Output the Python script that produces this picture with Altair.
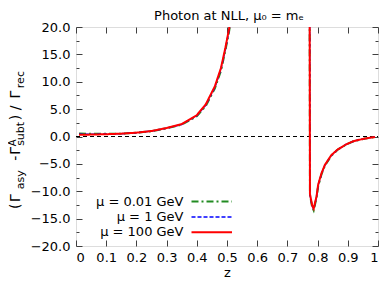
import altair as alt
import pandas as pd

# ---- data ----
z = [0.01, 0.05, 0.10, 0.15, 0.20, 0.25, 0.30, 0.35, 0.40, 0.43, 0.46, 0.48,
     0.495, 0.507, 0.52, 0.55, 0.60, 0.65, 0.70, 0.75, 0.765, 0.7735, 0.7747,
     0.782, 0.787, 0.7966, 0.8018, 0.813, 0.824, 0.8455, 0.867, 0.8945, 0.919,
     0.95, 0.97, 0.99]

mu_001 = [0.55, 0.50, 0.48, 0.52, 0.68, 0.97, 1.50, 2.15, 3.70, 5.60, 8.80, 12.0,
          15.8, 19.2, 24.0, 40.0, 70.0, 95.0, 110.0, 90.0, 60.0, 30.0, -10.7,
          -12.9, -13.5, -11.2, -9.1, -6.9, -5.35, -3.5, -2.4, -1.47, -0.87,
          -0.46, -0.26, -0.10]
mu_1 = [0.40, 0.42, 0.45, 0.52, 0.69, 0.99, 1.53, 2.20, 3.80, 5.75, 9.00, 12.3,
        16.0, 19.5, 24.5, 40.0, 70.0, 95.0, 110.0, 90.0, 60.0, 30.0, -10.6,
        -12.7, -13.3, -11.0, -8.9, -6.8, -5.25, -3.45, -2.37, -1.45, -0.86,
        -0.45, -0.25, -0.10]
mu_100 = [0.30, 0.35, 0.42, 0.52, 0.70, 1.00, 1.55, 2.25, 3.90, 5.90, 9.20, 12.5,
          16.3, 19.7, 25.0, 40.0, 70.0, 95.0, 110.0, 90.0, 60.0, 30.0, -10.5,
          -12.6, -13.15, -10.9, -8.8, -6.7, -5.2, -3.4, -2.35, -1.44, -0.85,
          -0.45, -0.25, -0.10]

series_labels = ["μ = 0.01 GeV", "μ = 1 GeV", "μ = 100 GeV"]
series_values = [mu_001, mu_1, mu_100]
series_colors = ["#228b22", "#0000ff", "#ff0000"]
series_dash = [[7, 3, 2, 3], [4, 2], [1, 0]]
series_width = [2, 1.5, 2]

x_ticks = [0.0, 0.1, 0.2, 0.3, 0.4, 0.5, 0.6, 0.7, 0.8, 0.9, 1.0]
y_ticks = [-20, -15, -10, -5, 0, 5, 10, 15, 20]
y_minor = [-17.5, -12.5, -7.5, -2.5, 2.5, 7.5, 12.5, 17.5]

title_text = "Photon at NLL, μ₀ = mₑ"

FONT = "DejaVu Sans"
AX = "#404040"
PAD_L, PAD_T, PAD_R, PAD_B = 68, 19, 4, 33
W, H = 302, 219
SY = H / 222.0  # vertical scale relative to the reference layout

xs = alt.Scale(domain=[0, 1], nice=False, zero=False)
ys = alt.Scale(domain=[-20, 20], nice=False, zero=False)

zero_df = pd.DataFrame({"z": [0.0, 1.0], "v": [0.0, 0.0]})
one = zero_df.head(1)

layers = []

# zero dashed line + inner major ticks (bottom / left)
layers.append(
    alt.Chart(zero_df).mark_line(color="black", strokeWidth=1, strokeDash=[4, 3]).encode(
        x=alt.X("z:Q", scale=xs, axis=alt.Axis(
            orient="bottom", offset=-6, values=x_ticks, tickSize=6, ticks=True,
            labels=False, domain=False, grid=False, title=None, tickColor=AX)),
        y=alt.Y("v:Q", scale=ys, axis=alt.Axis(
            orient="left", offset=-6, values=y_ticks, tickSize=6, ticks=True,
            labels=False, domain=False, grid=False, title=None, tickColor=AX)),
    )
)
# inner major ticks (top / right)
layers.append(
    alt.Chart(zero_df).mark_line(opacity=0).encode(
        x=alt.X("z:Q", scale=xs, axis=alt.Axis(
            orient="top", offset=-6, values=x_ticks, tickSize=6, ticks=True,
            labels=False, domain=False, grid=False, title=None, tickColor=AX)),
        y=alt.Y("v:Q", scale=ys, axis=alt.Axis(
            orient="right", offset=-6, values=y_ticks, tickSize=6, ticks=True,
            labels=False, domain=False, grid=False, title=None, tickColor=AX)),
    )
)
# minor y ticks left / right
for side in ["left", "right"]:
    layers.append(
        alt.Chart(zero_df).mark_line(opacity=0).encode(
            x=alt.X("z:Q", scale=xs, axis=None),
            y=alt.Y("v:Q", scale=ys, axis=alt.Axis(
                orient=side, offset=-3, values=y_minor, tickSize=3, ticks=True,
                labels=False, domain=False, grid=False, title=None, tickColor=AX)),
        )
    )

# curves
for i, (lab, vals, col, dash, sw) in enumerate(zip(series_labels, series_values,
                                                    series_colors, series_dash, series_width)):
    df = pd.DataFrame({"z": z, "v": vals})
    if i == 0:
        xax = alt.Axis(orient="bottom", values=x_ticks, format="~g", ticks=False, tickSize=0,
                       domain=False, grid=False, labelPadding=15, labelBaseline="alphabetic",
                       labelFont=FONT, labelFontSize=13, labelColor="black",
                       title="z", titleFont=FONT, titleFontSize=13, titleFontWeight="normal",
                       titleColor="black", titleBaseline="alphabetic", titleY=30)
        yax = alt.Axis(orient="left", values=y_ticks, format=".1f", ticks=False, tickSize=0,
                       domain=False, grid=False, labelPadding=6, labelFont=FONT,
                       labelFontSize=13, labelColor="black", title=None)
    else:
        xax = None
        yax = None
    layers.append(
        alt.Chart(df).mark_line(color=col, strokeWidth=sw, strokeDash=dash, clip=True).encode(
            x=alt.X("z:Q", scale=xs, axis=xax),
            y=alt.Y("v:Q", scale=ys, axis=yax),
        )
    )

# manual legend (bottom-left, inside the plot)
for i, (lab, col, dash, sw) in enumerate(zip(series_labels, series_colors, series_dash, series_width)):
    ry = (177 + 15.5 * i) * SY
    layers.append(
        alt.Chart(one).mark_rule(color=col, strokeWidth=sw, strokeDash=dash).encode(
            x=alt.value(115.5), x2=alt.value(156), y=alt.value(ry))
    )
    layers.append(
        alt.Chart(one).mark_text(
            text=lab, font=FONT, fontSize=13, align="right", baseline="middle", color="black"
        ).encode(x=alt.value(107.5), y=alt.value(ry))
    )

# y-axis title with sub/superscripts, rotated
pieces = [("(", 212.5, 14, 0), ("Γ", 205.5, 14, 0), ("asy", 192.5, 11, 4),
          ("-", 163.5, 14, 0), ("Γ", 157.5, 14, 0), ("A", 149, 10, -4.5),
          ("subt", 148.5, 11, 4), (")", 122.5, 14, 0), ("/", 112.5, 14, 0),
          ("Γ", 100.5, 14, 0), ("rec", 90, 11, 4)]
for txt, sy, fs, shift in pieces:
    layers.append(
        alt.Chart(one).mark_text(
            text=txt, font=FONT, fontSize=fs, angle=270, align="left",
            baseline="alphabetic", color="black"
        ).encode(x=alt.value(-56 + shift), y=alt.value((sy - 28) * SY))
    )

# chart title
layers.append(
    alt.Chart(one).mark_text(
        text=title_text, font=FONT, fontSize=13, align="center",
        baseline="alphabetic", color="black"
    ).encode(x=alt.value(W / 2 + 2), y=alt.value(-7.5))
)

chart = alt.layer(*layers).resolve_axis(x="independent", y="independent").properties(
    width=W, height=H,
    autosize=alt.AutoSizeParams(type="none"),
    padding={"left": PAD_L, "top": PAD_T, "right": PAD_R, "bottom": PAD_B},
).configure_view(stroke=AX, strokeWidth=1).configure(background="white")

chart.save("out.html", embed_options={"renderer": "svg", "actions": False})
